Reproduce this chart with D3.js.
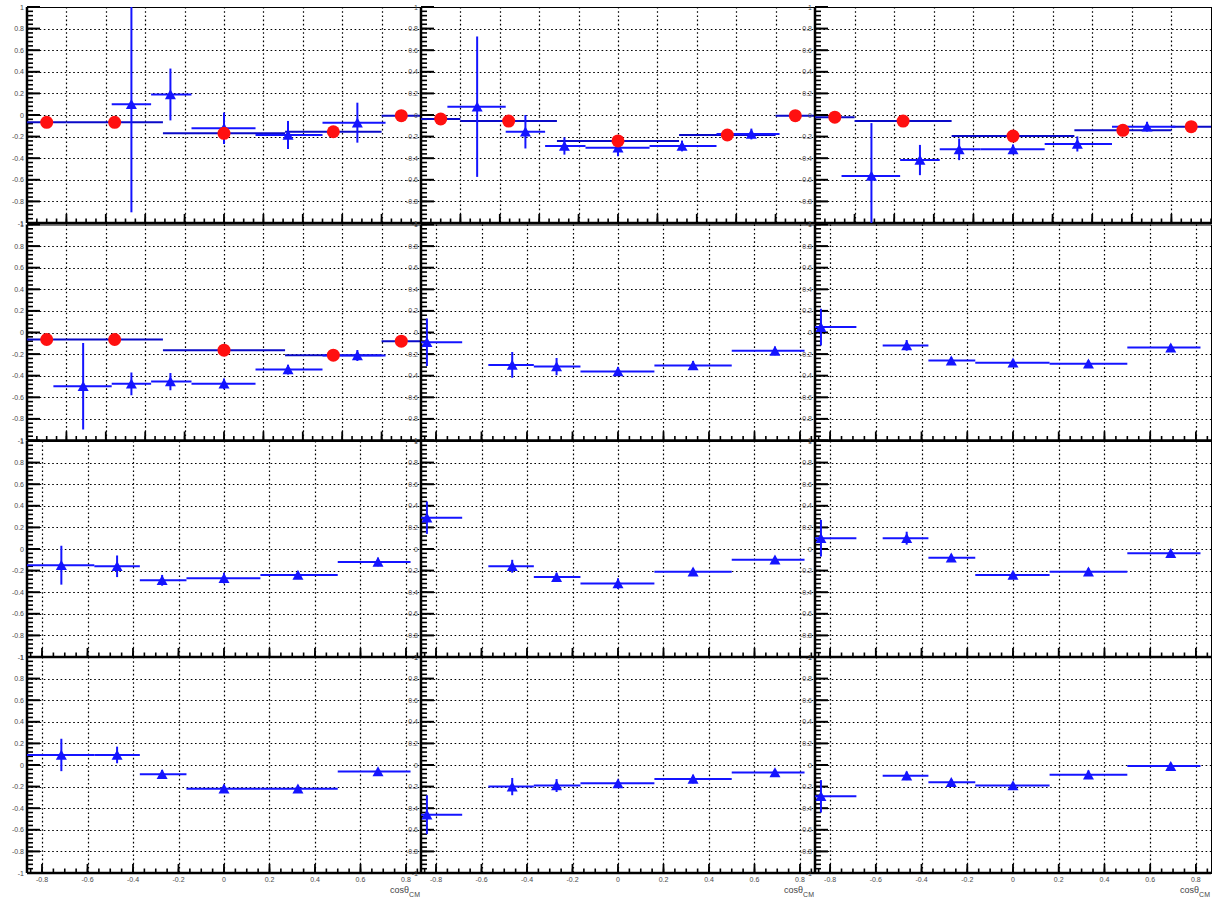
<!DOCTYPE html>
<html>
<head>
<meta charset="utf-8">
<script src="https://cdn.jsdelivr.net/npm/d3@7"></script>
<style>
  body { margin: 0; background: #fff; }
  text { font-family: "Liberation Sans", Arial, sans-serif; }
</style>
</head>
<body>
<svg id="canvas" width="1220" height="898"></svg>
<script>
// ---------- binning shared by the measured points ----------
const triX   = [-0.715, -0.47, -0.272, 0, 0.325, 0.677];
const triXLo = [-0.866, -0.57, -0.37, -0.165, 0.16, 0.5];
const triXHi = [-0.57, -0.37, -0.165, 0.16, 0.5, 0.82];

const triXB   = [-0.84, -0.465, -0.27, 0, 0.33, 0.69];
const triXBLo = [-0.866, -0.57, -0.37, -0.165, 0.16, 0.5];
const triXBHi = [-0.685, -0.37, -0.165, 0.16, 0.5, 0.82];

// ---------- binning of the model points ----------
const redX   = [-0.9, -0.555, 0, 0.555, 0.9];
const redXLo = [-1, -0.8, -0.31, 0.31, 0.8];
const redXHi = [-0.8, -0.31, 0.31, 0.8, 1];

// ---------- axes ----------
const yTickValues = [-1, -0.8, -0.6, -0.4, -0.2, 0, 0.2, 0.4, 0.6, 0.8, 1];
const yTickLabels = ["-1", "-0.8", "-0.6", "-0.4", "-0.2", "0", "0.2", "0.4", "0.6", "0.8", "1"];
const xTickValues = [-0.8, -0.6, -0.4, -0.2, 0, 0.2, 0.4, 0.6, 0.8];
const xTickLabels = ["-0.8", "-0.6", "-0.4", "-0.2", "0", "0.2", "0.4", "0.6", "0.8"];
const xDomainWide   = [-1, 1];
const xDomainNarrow = [-0.866, 0.866];
const xTitle = "cosθ";
const xTitleSub = "CM";

// ---------- values, one set per pad ----------
const r1c1TriY   = [null, 0.099, 0.19, -0.123, -0.185, -0.071];
const r1c1TriErr = [null, 1.0, 0.24, 0.145, 0.13, 0.185];
const r1c1RedY   = [-0.068, -0.068, -0.17, -0.155, -0.006];

const r1c2TriY   = [0.077, -0.155, -0.287, -0.303, -0.287, -0.176];
const r1c2TriErr = [0.65, 0.155, 0.08, 0.08, 0.05, 0.05];
const r1c2RedY   = [-0.037, -0.056, -0.24, -0.185, -0.006];

const r1c3TriY   = [-0.565, -0.417, -0.318, -0.318, -0.268, -0.108];
const r1c3TriErr = [0.49, 0.14, 0.1, 0.045, 0.07, 0.045];
const r1c3RedY   = [-0.02, -0.056, -0.195, -0.142, -0.108];

const r2c1TriY   = [-0.497, -0.475, -0.454, -0.475, -0.343, -0.213];
const r2c1TriErr = [0.40, 0.105, 0.08, 0.05, 0.045, 0.05];
const r2c1RedY   = [-0.065, -0.065, -0.164, -0.21, -0.08];

const r2c2TriY   = [-0.09, -0.30, -0.315, -0.36, -0.305, -0.17];
const r2c2TriErr = [0.22, 0.12, 0.08, 0.04, 0.04, 0.04];

const r2c3TriY   = [0.05, -0.12, -0.26, -0.28, -0.29, -0.14];
const r2c3TriErr = [0.17, 0.05, 0.03, 0.03, 0.03, 0.03];

const r3c1TriY   = [-0.15, -0.16, -0.29, -0.27, -0.24, -0.12];
const r3c1TriErr = [0.18, 0.1, 0.05, 0.05, 0.03, 0.04];

const r3c2TriY   = [0.29, -0.16, -0.26, -0.32, -0.21, -0.1];
const r3c2TriErr = [0.15, 0.06, 0.04, 0.05, 0.03, 0.03];

const r3c3TriY   = [0.1, 0.1, -0.08, -0.24, -0.21, -0.04];
const r3c3TriErr = [0.17, 0.06, 0.03, 0.03, 0.03, 0.03];

const r4c1TriY   = [0.093, 0.093, -0.086, -0.22, -0.22, -0.06];
const r4c1TriErr = [0.15, 0.077, 0.04, 0.04, 0.03, 0.03];

const r4c2TriY   = [-0.46, -0.2, -0.19, -0.17, -0.13, -0.07];
const r4c2TriErr = [0.18, 0.08, 0.06, 0.03, 0.04, 0.03];

const r4c3TriY   = [-0.29, -0.1, -0.16, -0.19, -0.09, -0.01];
const r4c3TriErr = [0.15, 0.04, 0.03, 0.03, 0.04, 0.03];

// ---------- pad list ----------
const A = { x: triX, lo: triXLo, hi: triXHi };
const B = { x: triXB, lo: triXBLo, hi: triXBHi };
const pads = [
  { row: 0, col: 0, dom: xDomainWide,   bins: A, y: r1c1TriY, e: r1c1TriErr, red: r1c1RedY },
  { row: 0, col: 1, dom: xDomainWide,   bins: A, y: r1c2TriY, e: r1c2TriErr, red: r1c2RedY },
  { row: 0, col: 2, dom: xDomainWide,   bins: A, y: r1c3TriY, e: r1c3TriErr, red: r1c3RedY },
  { row: 1, col: 0, dom: xDomainWide,   bins: A, y: r2c1TriY, e: r2c1TriErr, red: r2c1RedY },
  { row: 1, col: 1, dom: xDomainNarrow, bins: B, y: r2c2TriY, e: r2c2TriErr },
  { row: 1, col: 2, dom: xDomainNarrow, bins: B, y: r2c3TriY, e: r2c3TriErr },
  { row: 2, col: 0, dom: xDomainNarrow, bins: A, y: r3c1TriY, e: r3c1TriErr },
  { row: 2, col: 1, dom: xDomainNarrow, bins: B, y: r3c2TriY, e: r3c2TriErr },
  { row: 2, col: 2, dom: xDomainNarrow, bins: B, y: r3c3TriY, e: r3c3TriErr },
  { row: 3, col: 0, dom: xDomainNarrow, bins: A, y: r4c1TriY, e: r4c1TriErr },
  { row: 3, col: 1, dom: xDomainNarrow, bins: B, y: r4c2TriY, e: r4c2TriErr },
  { row: 3, col: 2, dom: xDomainNarrow, bins: B, y: r4c3TriY, e: r4c3TriErr }
];

// ---------- layout ----------
const frameLeft  = [27, 421, 815];
const frameWidth = [394, 394, 396];
const frameTop   = [7, 224.5, 441, 657];
const frameH     = 216;

const triColor  = "#1414ff";
const redLine   = "#0a0ac8";
const redFill   = "#ff1010";
const gridColor = "#000";
const labelColor = "#4a4a4a";

const svg = d3.select("#canvas");
const defs = svg.append("defs");

pads.forEach((p, i) => {
  const x0 = frameLeft[p.col], w = frameWidth[p.col];
  const y0 = frameTop[p.row], h = frameH;
  const x = d3.scaleLinear().domain(p.dom).range([x0, x0 + w]);
  const y = d3.scaleLinear().domain([-1, 1]).range([y0 + h, y0]);

  const clipId = "clip" + i;
  defs.append("clipPath").attr("id", clipId)
    .append("rect").attr("x", x0).attr("y", y0).attr("width", w).attr("height", h);

  const g = svg.append("g");

  // dotted grid
  const grid = g.append("g").attr("stroke", gridColor).attr("stroke-width", 1.2)
    .attr("stroke-dasharray", "1.6,2.6");
  grid.selectAll("line.gx").data(xTickValues).join("line")
    .attr("x1", d => Math.round(x(d)) + 0.5).attr("x2", d => Math.round(x(d)) + 0.5)
    .attr("y1", y0).attr("y2", y0 + h);
  grid.selectAll("line.gy").data(yTickValues.slice(1, -1)).join("line")
    .attr("y1", d => Math.round(y(d)) + 0.5).attr("y2", d => Math.round(y(d)) + 0.5)
    .attr("x1", x0).attr("x2", x0 + w);

  // frame
  g.append("rect").attr("x", x0 + 0.5).attr("y", y0 + 0.5).attr("width", w).attr("height", h)
    .attr("fill", "none").attr("stroke", "#000").attr("stroke-width", 1);

  // y axis: major ticks every 0.2, minor every 0.04, drawn inward
  const yMinor = d3.range(-1, 1.0001, 0.04);
  g.append("g").selectAll("line").data(yMinor).join("line")
    .attr("x1", x0).attr("x2", x0 + 6)
    .attr("y1", d => y(d)).attr("y2", d => y(d))
    .attr("stroke", "#000").attr("stroke-width", 1.6);
  g.append("g").selectAll("line").data(yTickValues).join("line")
    .attr("x1", x0).attr("x2", x0 + 13)
    .attr("y1", d => y(d)).attr("y2", d => y(d))
    .attr("stroke", "#000").attr("stroke-width", 2);
  g.append("line").attr("x1", x0).attr("x2", x0).attr("y1", y0).attr("y2", y0 + h)
    .attr("stroke", "#000").attr("stroke-width", 2.5);

  // x axis: major ticks every 0.2, minor every 0.05
  const xMinor = d3.range(-1, 1.0001, 0.05).filter(v => v >= p.dom[0] - 1e-9 && v <= p.dom[1] + 1e-9);
  g.append("g").selectAll("line").data(xMinor).join("line")
    .attr("x1", d => x(d)).attr("x2", d => x(d))
    .attr("y1", y0 + h).attr("y2", y0 + h - 4.5)
    .attr("stroke", "#000").attr("stroke-width", 1.6);
  g.append("g").selectAll("line").data(xTickValues).join("line")
    .attr("x1", d => x(d)).attr("x2", d => x(d))
    .attr("y1", y0 + h).attr("y2", y0 + h - 9)
    .attr("stroke", "#000").attr("stroke-width", 1.8);
  g.append("line").attr("x1", x0).attr("x2", x0 + w).attr("y1", y0 + h).attr("y2", y0 + h)
    .attr("stroke", "#000").attr("stroke-width", 2.5);

  // y tick labels
  g.append("g").selectAll("text").data(yTickValues).join("text")
    .attr("x", x0 - 3).attr("y", d => y(d) + 2.5)
    .attr("text-anchor", "end").attr("font-size", 7).attr("fill", labelColor)
    .text((d, k) => yTickLabels[k]);

  // x tick labels and title on the bottom row only
  if (p.row === 3) {
    g.append("g").selectAll("text").data(xTickValues).join("text")
      .attr("x", d => x(d)).attr("y", y0 + h + 9)
      .attr("text-anchor", "middle").attr("font-size", 7).attr("fill", labelColor)
      .text((d, k) => xTickLabels[k]);
    const t = g.append("text").attr("x", x0 + w - 1).attr("y", y0 + h + 20)
      .attr("text-anchor", "end").attr("font-size", 9).attr("fill", "#444");
    t.append("tspan").text(xTitle);
    t.append("tspan").attr("font-size", 7).attr("dy", 4).text(xTitleSub);
  }

  const data = g.append("g").attr("clip-path", `url(#${clipId})`);

  // model points: step segments and red circles
  if (p.red) {
    const rd = p.red.map((v, k) => ({ x: redX[k], lo: redXLo[k], hi: redXHi[k], y: v }));
    data.append("g").selectAll("line").data(rd).join("line")
      .attr("x1", d => x(d.lo)).attr("x2", d => x(d.hi))
      .attr("y1", d => y(d.y)).attr("y2", d => y(d.y))
      .attr("stroke", redLine).attr("stroke-width", 2);
  }

  // measured points: bin widths, error bars, triangles
  const td = p.y.map((v, k) => ({ x: p.bins.x[k], lo: p.bins.lo[k], hi: p.bins.hi[k], y: v, e: p.e[k] }))
    .filter(d => d.y !== null);
  const tg = data.append("g").attr("stroke", triColor).attr("stroke-width", 2);
  tg.selectAll("line.h").data(td).join("line")
    .attr("x1", d => x(d.lo)).attr("x2", d => x(d.hi))
    .attr("y1", d => y(d.y)).attr("y2", d => y(d.y));
  tg.selectAll("line.v").data(td).join("line")
    .attr("x1", d => x(d.x)).attr("x2", d => x(d.x))
    .attr("y1", d => y(d.y - d.e)).attr("y2", d => y(d.y + d.e));
  data.append("g").selectAll("path").data(td).join("path")
    .attr("d", d => {
      const cx = x(d.x), cy = y(d.y);
      return `M${cx - 5.5},${cy + 4.8}L${cx + 5.5},${cy + 4.8}L${cx},${cy - 5.2}Z`;
    })
    .attr("fill", triColor);

  if (p.red) {
    const rd = p.red.map((v, k) => ({ x: redX[k], y: v }));
    data.append("g").selectAll("circle").data(rd).join("circle")
      .attr("cx", d => x(d.x)).attr("cy", d => y(d.y)).attr("r", 6.5)
      .attr("fill", redFill);
  }
});
</script>
</body>
</html>
